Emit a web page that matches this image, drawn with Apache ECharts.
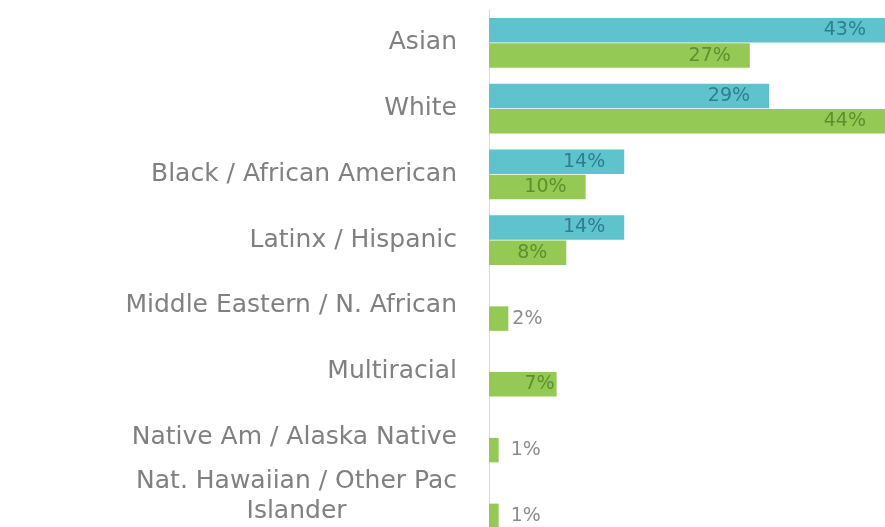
<!DOCTYPE html>
<html>
<head>
<meta charset="utf-8">
<script src="https://cdn.jsdelivr.net/npm/echarts@6/dist/echarts.min.js"></script>
<style>
html,body{margin:0;padding:0;background:#fff;}
#chart{width:885px;height:527px;}
</style>
</head>
<body>
<div id="chart"></div>
<script>
const categories = [
  'Asian',
  'White',
  'Black / African American',
  'Latinx / Hispanic',
  'Middle Eastern / N. African',
  'Multiracial',
  'Native Am / Alaska Native',
  'Nat. Hawaiian / Other Pac\nIslander'
];
const seriesBlue = [43, 29, 14, 14, null, null, null, null];
const seriesGreen = [27, 44, 10, 8, 2, 7, 1, 1];
// visible part of the value axis (the source picture is cropped at the right)
const xMax = 41;

const BLUE = '#5ec3cc';
const GREEN = '#93c954';
const FONT = 'DejaVu Sans';
const CAT_SIZE = 25;

const mctx = document.createElement('canvas').getContext('2d');
mctx.font = CAT_SIZE + 'px "' + FONT + '"';
let maxLine = 0;
categories.forEach(c => { if (c.indexOf('\n') >= 0) c.split('\n').forEach(l => { maxLine = Math.max(maxLine, mctx.measureText(l).width); }); });

function labelFor(v, darkColor) {
  if (v == null) return { show: false };
  if (v <= 2) {
    return { show: true, position: 'right', distance: v <= 1 ? 12 : 4, color: '#8c8c8c' };
  }
  return { show: true, position: 'insideRight', distance: v < 8 ? 2 : 19, color: darkColor };
}

const chart = echarts.init(document.getElementById('chart'), null, { renderer: 'canvas' });
chart.setOption({
  animation: false,
  backgroundColor: '#ffffff',
  grid: { left: 489, right: 0, top: 10, bottom: -9, containLabel: false, outerBoundsMode: 'none' },
  xAxis: {
    type: 'value', min: 0, max: xMax,
    show: false,
    splitLine: { show: false }
  },
  yAxis: {
    type: 'category',
    data: categories,
    inverse: true,
    axisTick: { show: false },
    axisLine: { show: true, lineStyle: { color: '#d9d9d9', width: 1 } },
    axisLabel: {
      margin: 32,
      color: '#808080',
      fontFamily: FONT,
      fontSize: CAT_SIZE,
      formatter: function (val) {
        if (val.indexOf('\n') >= 0) {
          return val.split('\n').map(l => '{c|' + l + '}').join('\n') + '\n{e| }';
        }
        return val;
      },
      rich: {
        c: { width: maxLine, align: 'center', color: '#808080', fontFamily: FONT, fontSize: CAT_SIZE, lineHeight: 30 },
        e: { fontSize: 8, lineHeight: 14 }
      }
    }
  },
  series: [
    {
      name: 'Blue',
      type: 'bar',
      barGap: '4%',
      barCategoryGap: '24%',
      itemStyle: { color: BLUE },
      label: { fontFamily: FONT, fontSize: 19, formatter: '{c}%' },
      data: seriesBlue.map(v => ({ value: v, label: labelFor(v, '#2e7f8e') }))
    },
    {
      name: 'Green',
      type: 'bar',
      barGap: '4%',
      barCategoryGap: '24%',
      itemStyle: { color: GREEN },
      label: { fontFamily: FONT, fontSize: 19, formatter: '{c}%' },
      data: seriesGreen.map(v => ({ value: v, label: labelFor(v, '#5f8f2c') }))
    }
  ]
});
</script>
</body>
</html>
